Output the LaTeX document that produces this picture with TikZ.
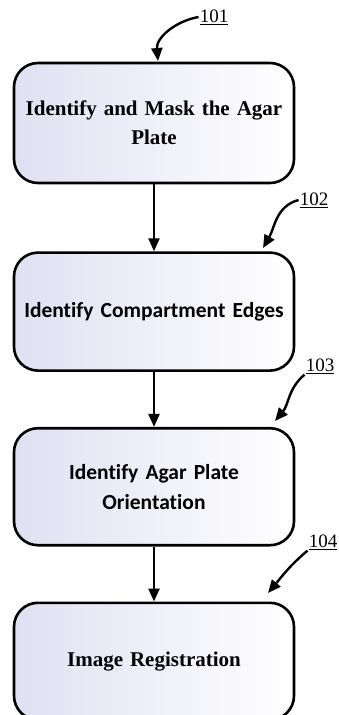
\documentclass[tikz,border=0pt]{standalone}
\usepackage{fontspec}
\setmainfont{Liberation Serif}
\newfontfamily\calfont[RawFeature=-liga]{Carlito}
\usetikzlibrary{arrows.meta,positioning}
\definecolor{boxlav}{RGB}{224,224,243}

\begin{document}
\begin{tikzpicture}[x=1pt,y=-1pt,
    stepbox/.style={rounded corners=24pt, draw=black, line width=2.6pt, left color=boxlav, right color=white, minimum width=280pt, text width=270pt, align=center, font=\bfseries\fontsize{21}{29}\selectfont},
    calbox/.style={stepbox, font=\calfont\bfseries\fontsize{21.5}{30}\selectfont},
    reflabel/.style={font=\fontsize{19}{20}\selectfont, inner sep=1pt},
    flow/.style={line width=2.4pt, -{Triangle[length=13pt,width=11pt]}}
  ]
  \useasboundingbox (0,0) rectangle (338,715);

  % Steps
  \node[stepbox, minimum height=120pt] (b1) at (154,123) {Identify and Mask the Agar\\Plate};
  \node[calbox, minimum height=118pt, below=67pt of b1] (b2) {Identify Compartment Edges};
  \node[calbox, minimum height=117pt, below=55pt of b2] (b3) {Identify Agar Plate\\Orientation};
  \node[stepbox, minimum height=117pt, below=55pt of b3] (b4) {Image Registration};

  \draw[flow] (b1) -- (b2);
  \draw[flow] (b2) -- (b3);
  \draw[flow] (b3) -- (b4);

  % Reference numerals
  \node[reflabel] (lbl101) at (214,17) {\underline{101}};
  \node[reflabel] (lbl102) at (314,200) {\underline{102}};
  \node[reflabel] (lbl103) at (320,366) {\underline{103}};
  \node[reflabel] (lbl104) at (323,542) {\underline{104}};

  \coordinate (t101) at (158,61);
  \coordinate (t102) at (263,248);
  \coordinate (t103) at (275,421);
  \coordinate (t104) at (268,593);

  \draw[flow] (lbl101.west) to[out=190,in=95] (t101);
  \draw[flow] (lbl102.west) to[out=195,in=60] (t102);
  \draw[flow] (lbl103.south west) to[out=220,in=50] (t103);
  \draw[flow] (lbl104.south west) to[out=220,in=50] (t104);
\end{tikzpicture}
\end{document}
